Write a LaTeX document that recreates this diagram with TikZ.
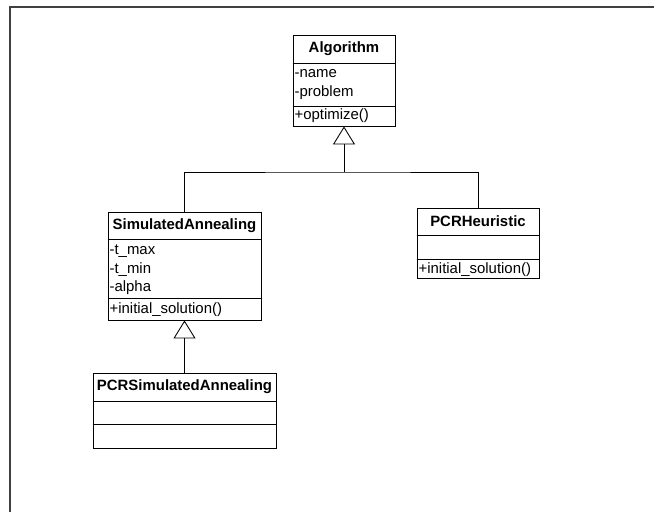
\documentclass[tikz,border=0pt]{standalone}
\usepackage{fontspec}
\setmainfont{Liberation Sans}
\usetikzlibrary{arrows.meta}
\begin{document}
\begin{tikzpicture}[x=0.75pt,y=-0.75pt,
  every node/.style={font=\fontsize{11.2}{13.5}\selectfont},
  classbox/.style={draw=black,line width=0.65pt,fill=white,inner sep=0pt},
  divider/.style={draw=black,line width=0.65pt},
  hdr/.style={font=\fontsize{11.2}{13.5}\selectfont\bfseries,inner sep=0pt,anchor=center},
  member/.style={inner sep=1pt,anchor=west,text height=8pt,text depth=2.5pt},
  gen/.style={draw=black,line width=0.65pt,-{Triangle[open,length=13.5pt,width=16.5pt]}},
  link/.style={draw=black,line width=0.65pt},
  frame/.style={draw=black!75,line width=1.1pt}]
\useasboundingbox (0,0) rectangle (654,512);
% outer frame
\draw[frame] (10,512) -- (10,7) -- (654,7);

% class Algorithm
\node[classbox,minimum width=76.5pt,minimum height=68.25pt] (alg) at (344,80.5) {};
\draw[divider] (alg.west |- 0,63) -- (alg.east |- 0,63);
\draw[divider] (alg.west |- 0,106) -- (alg.east |- 0,106);
\node[hdr] (algname) at (344,49) {Algorithm};
\node[member] (alg1) at (293,74) {-name};
\node[member] (alg2) at (293,92.5) {-problem};
\node[member] (alg3) at (293,116) {+optimize()};

% class SimulatedAnnealing
\node[classbox,minimum width=114.75pt,minimum height=81pt] (sa) at (184.5,266) {};
\draw[divider] (sa.west |- 0,239) -- (sa.east |- 0,239);
\draw[divider] (sa.west |- 0,298) -- (sa.east |- 0,298);
\node[hdr] (saname) at (184.5,225.5) {SimulatedAnnealing};
\node[member] (sa1) at (108,251) {-t\_max};
\node[member] (sa2) at (108,269.5) {-t\_min};
\node[member] (sa3) at (108,288) {-alpha};
\node[member] (sa4) at (108,309.5) {+initial\_solution()};

% class PCRHeuristic
\node[classbox,minimum width=91.5pt,minimum height=52.5pt] (pcrh) at (478,243) {};
\draw[divider] (pcrh.west |- 0,235) -- (pcrh.east |- 0,235);
\draw[divider] (pcrh.west |- 0,259) -- (pcrh.east |- 0,259);
\node[hdr] (pcrhname) at (478,221.5) {PCRHeuristic};
\node[member] (pcrh1) at (417,269.5) {+initial\_solution()};

% class PCRSimulatedAnnealing
\node[classbox,minimum width=137.25pt,minimum height=56.25pt] (pcrsa) at (184.5,410.5) {};
\draw[divider] (pcrsa.west |- 0,401) -- (pcrsa.east |- 0,401);
\draw[divider] (pcrsa.west |- 0,424) -- (pcrsa.east |- 0,424);
\node[hdr] (pcrsaname) at (184.5,387) {PCRSimulatedAnnealing};

% generalisation connectors
\coordinate (hub) at (344,172);
\draw[gen] (hub) -- (alg.south);
\draw[link] (sa.north) |- (hub) -| (pcrh.north);
\draw[gen] (pcrsa.north) -- (sa.south);
\end{tikzpicture}
\end{document}
